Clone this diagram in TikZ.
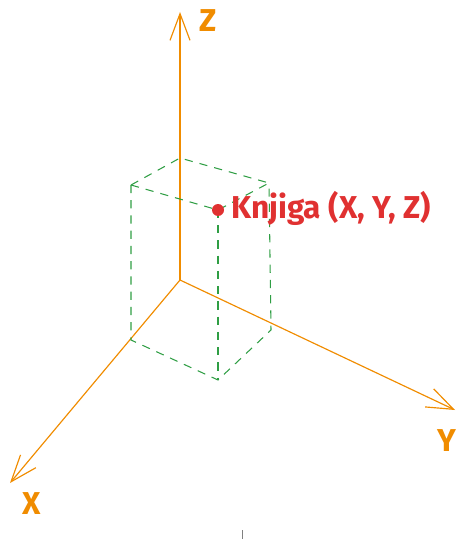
\documentclass[tikz,border=0pt]{standalone}
\usepackage{fontspec}
\setmainfont{Fira Sans}
\usetikzlibrary{arrows.meta}
\definecolor{osa}{HTML}{F08C00}
\definecolor{kutija}{HTML}{2F9E44}
\definecolor{tocka}{HTML}{E03131}
\begin{document}
\begin{tikzpicture}[x=0.03cm, y=-0.03cm,
    os/.style={osa, line width=1pt, -{Straight Barb[length=0.8cm, width=0.6cm, line width=1pt]}},
    rub/.style={kutija, line width=0.9pt, dash pattern=on 7pt off 6pt},
    oznaka/.style={font=\fontsize{27}{30}\selectfont\bfseries}]
    \useasboundingbox (0,0) rectangle (458,541);

    % Ishodiste i krajevi osi
    \coordinate (O) at (180,280);
    \coordinate (zkraj) at (180,12);
    \coordinate (xkraj) at (10,483);
    \coordinate (ykraj) at (455,410);

    % Osi
    \draw[os] (O) -- (zkraj);
    \draw[os] (O) -- (xkraj);
    \draw[os] (O) -- (ykraj);
    \node[osa, oznaka, anchor=west] (zlab) at (195,21) {Z};
    \node[osa, oznaka] (xlab) at (32,504) {X};
    \node[osa, oznaka, anchor=east, inner sep=1pt] (ylab) at (458,441) {Y};

    % Vrhovi kutije (gornja ploha)
    \coordinate (gs) at (180,158);
    \coordinate (gl) at (131,185);
    \coordinate (gd) at (269,183);
    \coordinate (gp) at (218,210);
    % Vrhovi kutije (donja ploha)
    \coordinate (dl) at (131,340);
    \coordinate (dd) at (271,330);
    \coordinate (dp) at (218,380);

    % Kutija
    \draw[rub] (gl) -- (gs) -- (gd);
    \draw[rub] (gl) -- (gp) -- (gd);
    \draw[rub] (gl) -- (dl) -- (dp) -- (dd) -- (gd);
    \draw[rub] (gp) -- (dp);

    % Knjiga
    \fill[tocka] (gp) circle (6);
    \node[tocka, oznaka, anchor=west] (knjiga) at (227,208) {Knjiga (X, Y, Z)};

    % sitna crtica
    \draw[gray, line width=0.6pt] (242,530) -- (242,539);
\end{tikzpicture}
\end{document}
